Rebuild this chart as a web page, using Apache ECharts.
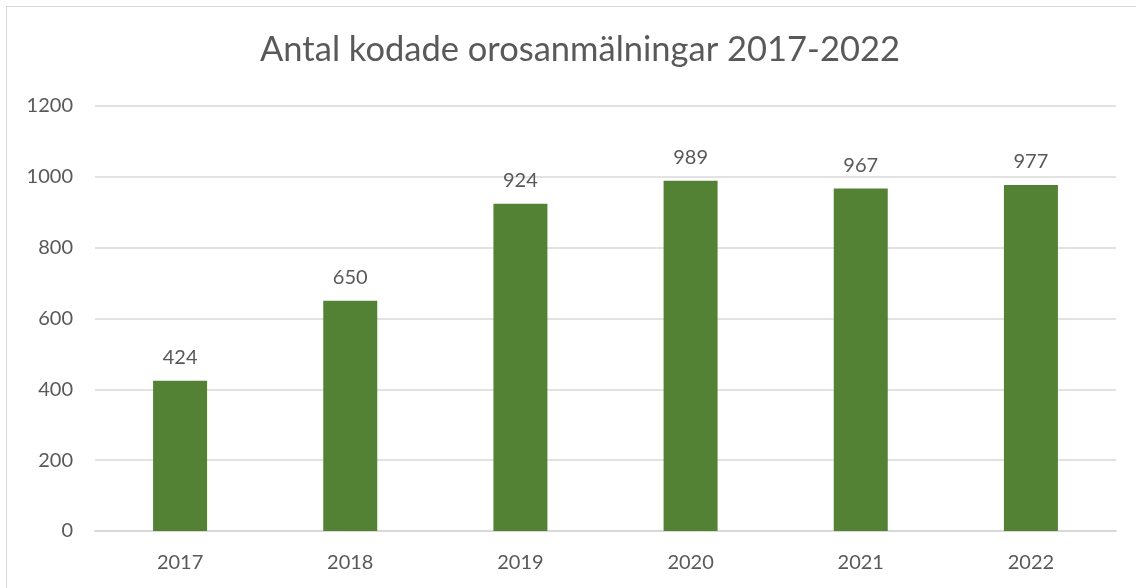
<!DOCTYPE html>
<html>
<head>
<meta charset="utf-8">
<script src="https://cdn.jsdelivr.net/npm/echarts@6/dist/echarts.min.js"></script>
<style>
    html, body { margin: 0; padding: 0; background: #fff; }
    #frame {
        position: absolute; left: 6px; top: 6px; width: 1200px; height: 700px;
        border: 1px solid #d9d9d9;
    }
    #chart { position: absolute; left: 0; top: 0; width: 1136px; height: 588px; }
</style>
</head>
<body>
<div id="frame"></div>
<div id="chart"></div>
<script>
const years = ['2017', '2018', '2019', '2020', '2021', '2022']
const counts = [424, 650, 924, 989, 967, 977]
const yTicks = [0, 200, 400, 600, 800, 1000, 1200]

const fontFamily = 'Lato, "Open Sans", sans-serif'
const textColor = '#595959'

const chartInstance = echarts.init(document.getElementById('chart'))

chartInstance.setOption({
    animation: false,
    title: {
        text: 'Antal kodade orosanmälningar 2017-2022',
        left: 575,
        top: 27,
        textAlign: 'center',
        textStyle: {
            fontFamily: fontFamily,
            fontSize: 34.5,
            fontWeight: 'normal',
            color: textColor
        }
    },
    grid: {
        left: 95,
        right: 20,
        top: 106,
        bottom: 57
    },
    xAxis: {
        type: 'category',
        data: years,
        axisLine: { lineStyle: { color: '#d9d9d9', width: 2 } },
        axisTick: { show: false },
        axisLabel: {
            color: textColor,
            fontFamily: fontFamily,
            fontSize: 20,
            margin: 22
        }
    },
    yAxis: {
        type: 'value',
        min: yTicks[0],
        max: yTicks[yTicks.length - 1],
        interval: 200,
        axisLine: { show: false },
        axisTick: { show: false },
        splitLine: { lineStyle: { color: '#d9d9d9', width: 1.5 } },
        axisLabel: {
            color: textColor,
            fontFamily: fontFamily,
            fontSize: 20,
            margin: 22,
            formatter: (v) => String(v)
        }
    },
    series: [{
        type: 'bar',
        data: counts,
        barWidth: 54,
        itemStyle: { color: '#548235' },
        label: {
            show: true,
            position: 'top',
            distance: 13,
            color: textColor,
            fontFamily: fontFamily,
            fontSize: 20
        }
    }]
})
</script>
</body>
</html>
